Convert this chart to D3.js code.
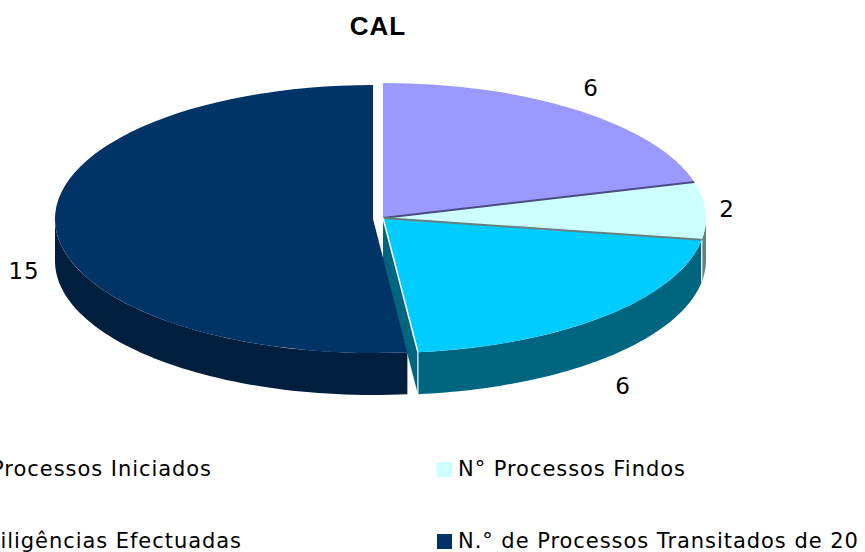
<!DOCTYPE html>
<html><head><meta charset="utf-8">
<script src="https://cdn.jsdelivr.net/npm/d3@7"></script>
<style>html,body{margin:0;padding:0;background:#fff;overflow:hidden}svg{display:block}</style>
</head><body><div id="c"></div>
<script>
const categories = ["N° Processos Iniciados","N° Processos Findos","N° Diligências Efectuadas","N.° de Processos Transitados de 20"];
const values = [6,2,6,15];
const faceColors = ["#9999FF","#CCFFFF","#00CCFF","#003366"];
const wallColors = ["#4C4C80","#668080","#006680","#001F3F"];
const edgeColors = ["#4C4C80","#668080","#FFFFFF",null];
const title = "CAL";

const W=865,H=552;
const svg=d3.select("#c").append("svg").attr("width",W).attr("height",H);
svg.append("rect").attr("width",W).attr("height",H).attr("fill","#fff");

const depth=42;
const geom=[
  {cx:383,cy:218,rx:323,ry:135},
  {cx:383,cy:218,rx:323,ry:135},
  {cx:383,cy:218,rx:323,ry:135},
  {cx:373,cy:219,rx:318,ry:134}
];
const arcs=d3.pie().sort(null).value(d=>d)(values);
const pt=(g,a,dy=0)=>[g.cx+g.rx*Math.sin(a),g.cy-g.ry*Math.cos(a)+dy];
const line=d3.line();

// inner cut face exposed by the exploded slice
const cut=arcs[3].startAngle, g0=geom[2];
svg.append("path").attr("fill",wallColors[2])
  .attr("d",line([[g0.cx,g0.cy],pt(g0,cut),pt(g0,cut,depth),[g0.cx,g0.cy+depth]])+"Z");

// outer walls: only the front half of the ellipse is visible
arcs.forEach((d,i)=>{
  const g=geom[i];
  const a0=Math.max(d.startAngle,Math.PI/2), a1=Math.min(d.endAngle,3*Math.PI/2);
  if(a1<=a0) return;
  const angles=d3.range(0,61).map(k=>d3.interpolateNumber(a0,a1)(k/60));
  const pts=angles.map(a=>pt(g,a)).concat(angles.slice().reverse().map(a=>pt(g,a,depth)));
  svg.append("path").attr("fill",wallColors[i]).attr("d",line(pts)+"Z");
});

// white seam on the front of the wall
[arcs[1].endAngle,arcs[2].endAngle].forEach(a=>{
  const p=pt(g0,a);
  svg.append("line").attr("x1",p[0]).attr("y1",p[1]).attr("x2",p[0]).attr("y2",p[1]+depth)
    .attr("stroke","#fff").attr("stroke-width",1.2);
});

// top faces
const arc=d3.arc().innerRadius(0);
arcs.forEach((d,i)=>{
  const g=geom[i];
  svg.append("path").attr("fill",faceColors[i])
    .attr("transform",`translate(${g.cx},${g.cy}) scale(1,${g.ry/g.rx})`)
    .attr("d",arc.outerRadius(g.rx)(d));
});

// slice edges
arcs.forEach((d,i)=>{
  if(!edgeColors[i]) return;
  const g=geom[i], p=pt(g,d.endAngle);
  svg.append("line").attr("x1",g.cx).attr("y1",g.cy).attr("x2",p[0]).attr("y2",p[1])
    .attr("stroke",edgeColors[i]).attr("stroke-width",i===2?1.5:2);
});

// data labels
const font="Verdana, 'DejaVu Sans', sans-serif";
const labelPos=[[591,96],[727,217],[623,394],[24,279]];
values.forEach((v,i)=>{
  svg.append("text").attr("x",labelPos[i][0]).attr("y",labelPos[i][1]).attr("text-anchor","middle")
    .attr("font-family",font).attr("font-size",23).attr("letter-spacing",0.8).attr("fill","#000").text(v);
});

svg.append("text").attr("x",378).attr("y",35).attr("text-anchor","middle")
  .attr("font-family","'Liberation Sans',Arial,sans-serif").attr("font-weight","bold")
  .attr("font-size",26).attr("letter-spacing",1).attr("fill","#000").text(title);

// legend
const legend=[[212,476,"end"],[458,476,"start"],[242,548,"end"],[458,548,"start"]];
categories.forEach((c,i)=>{
  const [x,y,anchor]=legend[i];
  if(anchor==="start"){
    svg.append("rect").attr("x",437).attr("y",y-14).attr("width",15).attr("height",15).attr("fill",faceColors[i]);
  }
  svg.append("text").attr("x",x).attr("y",y).attr("text-anchor",anchor)
    .attr("font-family",font).attr("font-size",21).attr("letter-spacing",0.95).attr("fill","#000").text(c);
});
</script></body></html>
